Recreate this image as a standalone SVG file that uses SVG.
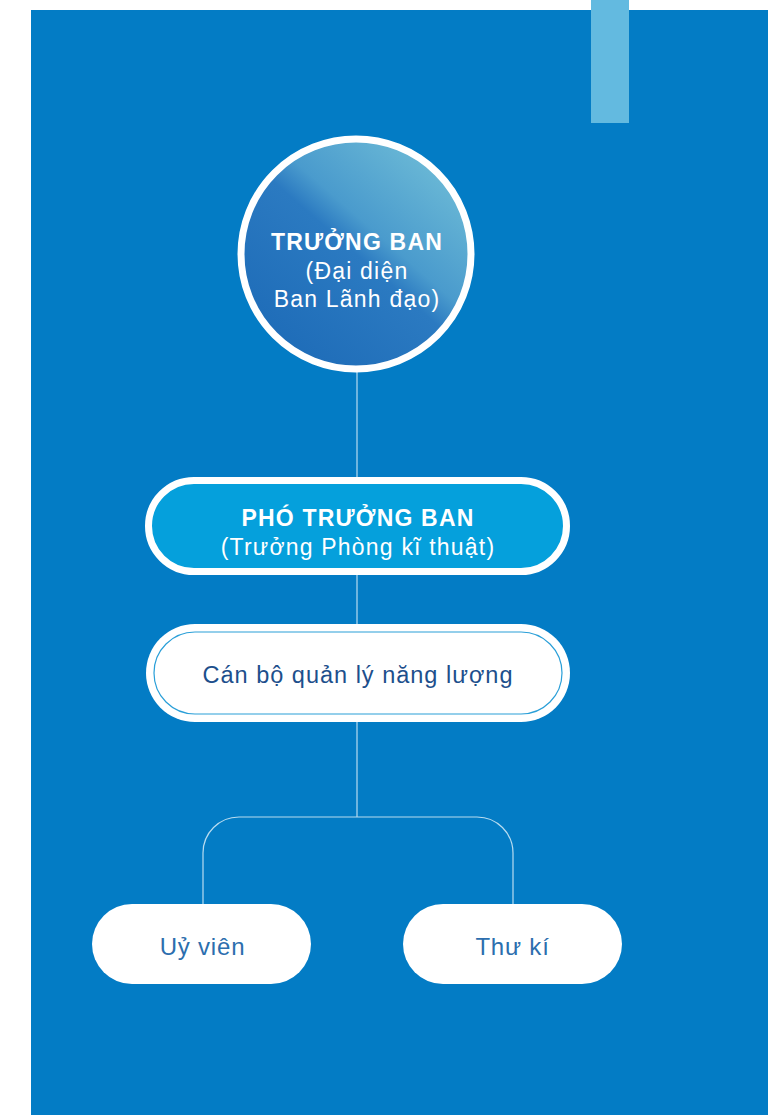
<svg xmlns="http://www.w3.org/2000/svg" width="768" height="1115" viewBox="0 0 768 1115">
<defs>
<linearGradient id="g1" x1="0.85" y1="0.1" x2="0.15" y2="0.9">
<stop offset="0" stop-color="#6bb9d6"/>
<stop offset="0.38" stop-color="#4a9bcd"/>
<stop offset="0.5" stop-color="#2b7ac1"/>
<stop offset="1" stop-color="#1e6cb8"/>
</linearGradient>
<style>
.t{font-family:"Liberation Sans",Arial,sans-serif;text-anchor:middle}
.w{fill:#ffffff;letter-spacing:1.2px}
.b{font-weight:700}
.c{fill:none;stroke:#b8dcf0;stroke-width:1.2}
.d{fill:#1d4f8c;letter-spacing:1px}
.e{fill:#2c6eae;letter-spacing:0.8px}
</style>
</defs>
<rect x="0" y="0" width="768" height="1115" fill="#ffffff"/>
<rect x="31" y="10" width="737" height="1105" fill="#037cc5"/>
<rect x="591" y="0" width="38" height="123" fill="#63bae0"/>
<g id="connectors">
<line class="c" x1="357" y1="372" x2="357" y2="478"/>
<line class="c" x1="357" y1="575" x2="357" y2="624"/>
<line class="c" x1="357" y1="722" x2="357" y2="817"/>
<path class="c" d="M203 904 V853 A36 36 0 0 1 239 817 H477 A36 36 0 0 1 513 853 V904"/>
</g>
<g id="truong-ban">
<circle cx="356" cy="254" r="115" fill="url(#g1)" stroke="#ffffff" stroke-width="7"/>
<text class="t w b" x="357" y="250" font-size="23">TRƯỞNG BAN</text>
<text class="t w" x="357" y="279" font-size="23">(Đại diện</text>
<text class="t w" x="357" y="307" font-size="23">Ban Lãnh đạo)</text>
</g>
<g id="pho-truong-ban">
<rect x="148.5" y="480.5" width="418" height="91" rx="45.5" fill="#05a0dc" stroke="#ffffff" stroke-width="7"/>
<text class="t w b" x="358" y="526" font-size="23">PHÓ TRƯỞNG BAN</text>
<text class="t w" x="358" y="555" font-size="23">(Trưởng Phòng kĩ thuật)</text>
</g>
<g id="can-bo">
<rect x="146" y="624" width="424" height="98" rx="49" fill="#ffffff"/>
<rect x="154" y="632" width="408" height="82" rx="41" fill="none" stroke="#2a9fd8" stroke-width="1.2"/>
<text class="t d" x="358" y="683" font-size="23.5">Cán bộ quản lý năng lượng</text>
</g>
<g id="uy-vien">
<rect x="92" y="904" width="219" height="80" rx="40" fill="#ffffff"/>
<text class="t e" x="202.5" y="955" font-size="24">Uỷ viên</text>
</g>
<g id="thu-ki">
<rect x="403" y="904" width="219" height="80" rx="40" fill="#ffffff"/>
<text class="t e" x="512.5" y="955" font-size="24">Thư kí</text>
</g>
</svg>
